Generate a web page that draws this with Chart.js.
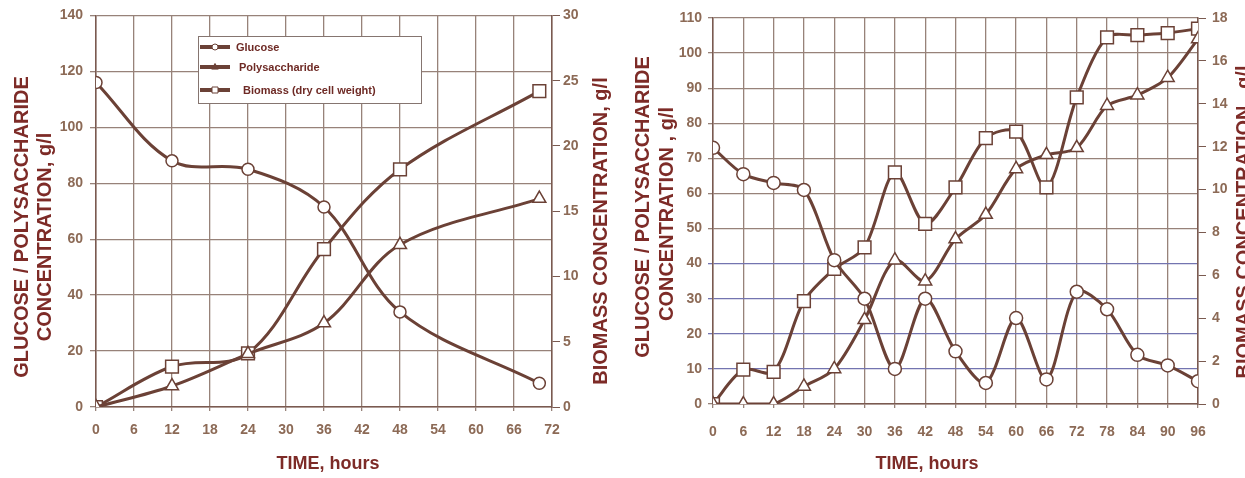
<!DOCTYPE html>
<html>
<head>
<meta charset="utf-8">
<title>Glucose, polysaccharide and biomass</title>
<script src="https://cdn.jsdelivr.net/npm/chart.js@4.4.1/dist/chart.umd.min.js"></script>
<style>
	body { margin: 0; background: #fff; }
	#wrap { position: relative; width: 1245px; height: 478px; overflow: hidden; }
	canvas { position: absolute; top: 0; }
	#left { left: 0; }
	#right { left: 620px; }
</style>
</head>
<body>
<div id="wrap">
	<canvas id="left" width="620" height="478"></canvas>
	<canvas id="right" width="625" height="478"></canvas>
</div>
<script>
// left run (0 - 72 h)
const leftHours = [0, 12, 24, 36, 48, 70];
const leftGlucose = [116, 88, 85, 71.5, 34, 8.5];
const leftPoly = [0, 7.5, 19, 30, 58, 74.5];
const leftBiomass = [0, 3.1, 4.1, 12.1, 18.2, 24.2];

// right run (0 - 96 h)
const rightHours = [0, 6, 12, 18, 24, 30, 36, 42, 48, 54, 60, 66, 72, 78, 84, 90, 96];
const rightGlucose = [73, 65.5, 63, 61, 41, 30, 10, 30, 15, 6, 24.5, 7, 32, 27, 14, 11, 6.5];
const rightPoly = [0, 0, 0, 5, 10, 24, 41, 35, 47, 54, 67, 71, 73, 85, 88, 93, 104];
const rightBiomass = [0, 1.6, 1.5, 4.8, 6.3, 7.3, 10.8, 8.4, 10.1, 12.4, 12.7, 10.1, 14.3, 17.1, 17.2, 17.3, 17.5];

const seriesNames = ['Glucose', 'Polysaccharide', 'Biomass (dry cell weight)'];

const BROWN = '#6b4136';
const AXIS = '#7a5a50';
const GRID = '#978279';
const BLUE_GRID = '#7374b0';
const TICK = '#8c6a56';
const TITLE = '#7d2b27';
const FONT = '"Liberation Sans", Arial, Helvetica, sans-serif';

function series(label, hours, values, style, radius, axis, tension) {
	return {
		label: label,
		data: hours.map((h, i) => ({ x: h, y: values[i] })),
		yAxisID: axis,
		borderColor: BROWN,
		borderWidth: 3,
		pointStyle: style,
		pointRadius: radius,
		pointBackgroundColor: '#fff',
		pointBorderColor: BROWN,
		pointBorderWidth: 1.5,
		tension: tension,
		fill: false
	};
}

function drawMarker(ctx, style, x, y, r, filled) {
	ctx.beginPath();
	if (style === 'circle') {
		ctx.arc(x, y, r, 0, Math.PI * 2);
	} else if (style === 'triangle') {
		ctx.moveTo(x, y - r);
		ctx.lineTo(x + r * 0.95, y + r * 0.6);
		ctx.lineTo(x - r * 0.95, y + r * 0.6);
		ctx.closePath();
	} else {
		ctx.rect(x - r, y - r, 2 * r, 2 * r);
	}
	ctx.fillStyle = filled ? BROWN : '#fff';
	ctx.fill();
	ctx.lineWidth = 1;
	ctx.strokeStyle = BROWN;
	ctx.stroke();
}

// legend box drawn inside the plot, like the original figure
function boxLegend(o) {
	return {
		id: 'boxLegend',
		afterDatasetsDraw(chart) {
			const ctx = chart.ctx;
			ctx.save();
			ctx.fillStyle = '#fff';
			ctx.fillRect(o.x, o.y, o.w, o.h);
			ctx.strokeStyle = '#857570';
			ctx.lineWidth = 1;
			ctx.strokeRect(o.x + 0.5, o.y + 0.5, o.w, o.h);
			ctx.font = 'bold 11px ' + FONT;
			ctx.textBaseline = 'middle';
			chart.data.datasets.forEach((ds, i) => {
				const y = o.rows[i];
				ctx.strokeStyle = BROWN;
				ctx.lineWidth = o.lineWidth;
				ctx.beginPath();
				ctx.moveTo(o.x0, y);
				ctx.lineTo(o.x1, y);
				ctx.stroke();
				drawMarker(ctx, ds.pointStyle, (o.x0 + o.x1) / 2, y, o.marks[i], o.filled[i]);
				ctx.fillStyle = '#6e2a25';
				ctx.fillText(ds.label, o.textX[i], y + 1);
			});
			ctx.restore();
		}
	};
}

// axis titles placed where the figure has them
function axisTitles(items) {
	return {
		id: 'axisTitles',
		afterDraw(chart) {
			const ctx = chart.ctx;
			ctx.save();
			ctx.fillStyle = TITLE;
			ctx.textAlign = 'center';
			ctx.textBaseline = 'middle';
			items.forEach(t => {
				ctx.save();
				ctx.translate(t.x, t.y);
				if (t.vertical) ctx.rotate(-Math.PI / 2);
				ctx.font = 'bold ' + t.size + 'px ' + FONT;
				ctx.fillText(t.text, 0, 0);
				ctx.restore();
			});
			ctx.restore();
		}
	};
}

function tickFont() {
	return { family: FONT, size: 14, weight: 'bold' };
}

function makeChart(id, cfg) {
	return new Chart(document.getElementById(id), {
		type: 'line',
		data: { datasets: cfg.datasets },
		options: {
			responsive: false,
			animation: false,
			layout: { padding: { top: cfg.top, left: 0, right: 0, bottom: 0 } },
			plugins: { legend: { display: false }, tooltip: { enabled: false } },
			scales: {
				x: {
					type: 'linear', min: 0, max: cfg.xMax,
					ticks: { stepSize: 6, color: TICK, font: tickFont(), padding: cfg.xPad, maxRotation: 0 },
					grid: { color: GRID, lineWidth: 1.3, tickLength: 4 },
					border: { color: AXIS, width: 1.5 },
					afterFit: s => { s.height = cfg.xHeight; }
				},
				y: {
					position: 'left', min: 0, max: cfg.yMax,
					ticks: { stepSize: cfg.yStep, color: TICK, font: tickFont(), padding: cfg.yPad, autoSkip: false },
					grid: { color: cfg.gridColor, lineWidth: 1.3, tickLength: cfg.yTick },
					border: { color: AXIS, width: 1.5 },
					afterFit: s => { s.width = cfg.leftWidth; }
				},
				y1: {
					position: 'right', min: 0, max: cfg.y1Max,
					ticks: { stepSize: cfg.y1Step, color: TICK, font: tickFont(), padding: cfg.y1Pad, autoSkip: false },
					grid: { drawOnChartArea: false, color: AXIS, tickLength: 8 },
					border: { color: AXIS, width: 1.5 },
					afterFit: s => { s.width = cfg.rightWidth; }
				}
			}
		},
		plugins: [boxLegend(cfg.legend), axisTitles(cfg.titles)]
	});
}

makeChart('left', {
	datasets: [
		series(seriesNames[0], leftHours, leftGlucose, 'circle', 6, 'y', 0.35),
		series(seriesNames[1], leftHours, leftPoly, 'triangle', 7.5, 'y', 0.35),
		series(seriesNames[2], leftHours, leftBiomass, 'rect', 9, 'y1', 0.35)
	],
	top: 15, xMax: 72, xHeight: 71, xPad: 11,
	yMax: 140, yStep: 20, yPad: 7, yTick: 6, leftWidth: 96,
	y1Max: 30, y1Step: 5, y1Pad: 3, rightWidth: 68,
	gridColor: GRID,
	legend: {
		x: 198, y: 36, w: 223, h: 67, rows: [47, 67, 90],
		x0: 200, x1: 230, lineWidth: 4, marks: [3, 3.5, 3], filled: [false, true, false],
		textX: [236, 239, 243]
	},
	titles: [
		{ text: 'GLUCOSE / POLYSACCHARIDE', x: 22, y: 227, size: 20, vertical: true },
		{ text: 'CONCENTRATION, g/l', x: 45, y: 237, size: 20, vertical: true },
		{ text: 'BIOMASS CONCENTRATION, g/l', x: 601, y: 231, size: 20, vertical: true },
		{ text: 'TIME, hours', x: 328, y: 464, size: 18 }
	]
});

makeChart('right', {
	datasets: [
		series(seriesNames[0], rightHours, rightGlucose, 'circle', 6.5, 'y', 0.3),
		series(seriesNames[1], rightHours, rightPoly, 'triangle', 7.5, 'y', 0.3),
		series(seriesNames[2], rightHours, rightBiomass, 'rect', 9, 'y1', 0.3)
	],
	top: 18, xMax: 96, xHeight: 74, xPad: 16,
	yMax: 110, yStep: 10, yPad: 6, yTick: 5, leftWidth: 93,
	y1Max: 18, y1Step: 2, y1Pad: 6, rightWidth: 47,
	// lower horizontal rules are bluish in the scan
	gridColor: c => (c.index >= 1 && c.index <= 4) ? BLUE_GRID : GRID,
	legend: {
		x: 787, y: 42, w: 256, h: 58, rows: [54, 73, 92],
		x0: 793, x1: 823, lineWidth: 2.5, marks: [4, 4.5, 4], filled: [false, false, false],
		textX: [830, 827, 829]
	},
	titles: [
		{ text: 'GLUCOSE / POLYSACCHARIDE', x: 23, y: 207, size: 20, vertical: true },
		{ text: 'CONCENTRATION , g/l', x: 47, y: 214, size: 20, vertical: true },
		{ text: 'BIOMASS CONCENTRATION , g/l', x: 624, y: 222, size: 20, vertical: true },
		{ text: 'TIME, hours', x: 307, y: 464, size: 18 }
	]
});
</script>
</body>
</html>
